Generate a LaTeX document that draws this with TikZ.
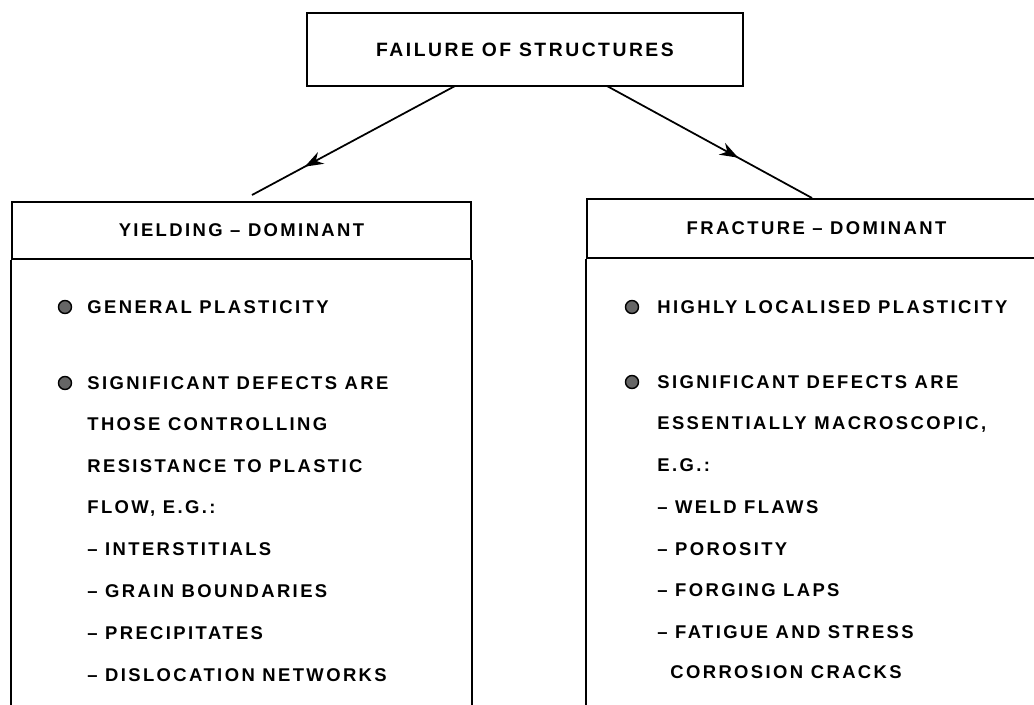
\documentclass[tikz,border=0pt]{standalone}
\usepackage{fontspec}
\newfontfamily\lettering{Liberation Sans}[LetterSpace=13, UprightFont=* Bold]
\usetikzlibrary{arrows.meta,decorations.markings}
\tikzset{
  box/.style={draw, line width=1.4pt, inner sep=0pt, font=\lettering\fontsize{10.5}{12}\selectfont},
  txt/.style={anchor=west, inner sep=0pt, text height=7.5pt, text depth=0pt, font=\lettering\fontsize{10.5}{12}\selectfont},
  dot/.style={circle, draw, fill=black!60, line width=0.8pt, minimum size=7.4pt, inner sep=0pt},
  flow/.style={line width=1pt, postaction={decorate},
    decoration={markings, mark=at position #1 with {\arrow{Stealth[length=10.5pt,width=7.5pt]}}}},
}
\begin{document}
\begin{tikzpicture}[x=0.02cm, y=-0.02cm]
    \useasboundingbox (0,0) rectangle (1034,704);
    \node[box, minimum width=8.72cm, minimum height=1.46cm, font=\lettering\fontsize{11}{13}\selectfont] (failure) at (525,49.5) {FAILURE OF STRUCTURES};
    \node[box, minimum width=9.18cm, minimum height=1.14cm] (yield) at (241.5,230.5) {YIELDING \textendash{} DOMINANT};
    \node[box, minimum width=9.18cm, minimum height=1.18cm] (fracture) at (816.5,228.5) {FRACTURE \textendash{} DOMINANT};
    \foreach \n in {yield, fracture} {
      \draw[line width=1.4pt] (\n.south west) -- ++(0,460);
      \draw[line width=1.4pt] (\n.south east) -- ++(0,460);
    }
    \coordinate (ltop) at (455,86);
    \coordinate (lend) at (252,195);
    \coordinate (rtop) at (607,86);
    \coordinate (rend) at (812,198);
    \draw[flow=0.74] (ltop) -- (lend);
    \draw[flow=0.64] (rtop) -- (rend);
    \foreach \y [count=\i] in {307, 383} {
      \node[dot] (yb\i) at (65,\y) {};
    }
    \foreach \y [count=\i] in {307, 382} {
      \node[dot] (fb\i) at (632,\y) {};
    }
    \foreach \x/\y/\t [count=\i] in {87/307/GENERAL PLASTICITY, 87/383/SIGNIFICANT DEFECTS ARE,
      87/424/THOSE CONTROLLING, 87/466/RESISTANCE TO PLASTIC, 87/507/{FLOW, E.G.:},
      87/549/\textendash\ INTERSTITIALS, 87/591/\textendash\ GRAIN BOUNDARIES,
      87/633/\textendash\ PRECIPITATES, 87/675/\textendash\ DISLOCATION NETWORKS} {
      \node[txt] (yl\i) at (\x,\y) {\t};
    }
    \foreach \x/\y/\t [count=\i] in {657/307/HIGHLY LOCALISED PLASTICITY, 657/382/SIGNIFICANT DEFECTS ARE,
      657/423/{ESSENTIALLY MACROSCOPIC,}, 657/465/E.G.:, 657/507/\textendash\ WELD FLAWS,
      657/549/\textendash\ POROSITY, 657/590/\textendash\ FORGING LAPS,
      657/632/\textendash\ FATIGUE AND STRESS, 670/672/CORROSION CRACKS} {
      \node[txt] (fl\i) at (\x,\y) {\t};
    }
  \end{tikzpicture}
\end{document}
